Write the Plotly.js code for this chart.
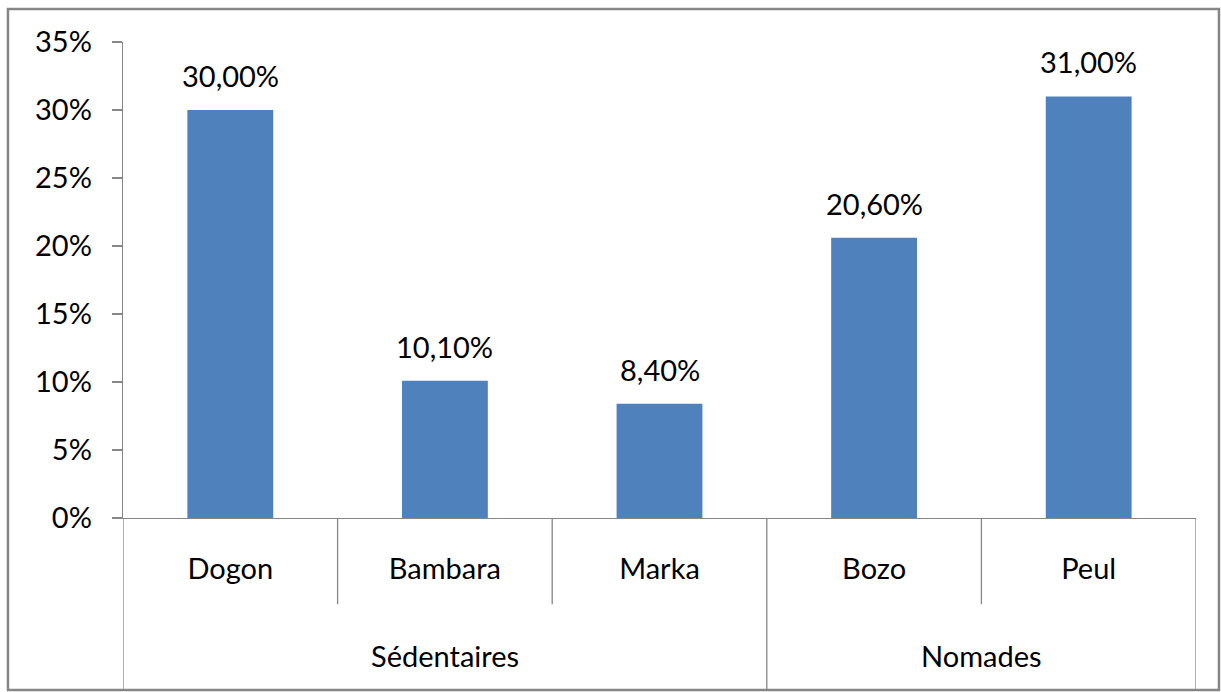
<!DOCTYPE html>
<html>
<head>
<meta charset="utf-8">
<script src="https://cdn.plot.ly/plotly-3.0.1.min.js"></script>
<style>html,body{margin:0;padding:0;background:#fff;}#chart{width:1221px;height:692px;}</style>
</head>
<body>
<div id="chart"></div>
<script>
// Data
var categories = ["Dogon", "Bambara", "Marka", "Bozo", "Peul"];
var groups = ["Sédentaires", "Sédentaires", "Sédentaires", "Nomades", "Nomades"];
var values = [0.30, 0.101, 0.084, 0.206, 0.31];
var yTicks = [0, 0.05, 0.10, 0.15, 0.20, 0.25, 0.30, 0.35];

var FONT = "Lato, 'Open Sans', sans-serif";
var FS = 29;
var AXIS = "#868686";
var idx = categories.map(function(_, i){ return i; });

function fmtPct(v){ return (v*100).toFixed(2).replace('.', ',') + '%'; }
var annotations = idx.map(function(i){
  return {x: i, y: values[i], xref: 'x', yref: 'y', text: fmtPct(values[i]),
    showarrow: false, yanchor: 'bottom', yshift: 15,
    font: {family: FONT, size: FS, color: '#000'}};
});

// group labels
var groupNames = [];
groups.forEach(function(g){ if (groupNames.indexOf(g) < 0) groupNames.push(g); });
var shapes = [];
groupNames.forEach(function(g){
  var members = idx.filter(function(i){ return groups[i] === g; });
  var first = members[0], last = members[members.length-1];
  annotations.push({x: (first+last)/2, y: -0.288, xref: 'x', yref: 'paper', text: g,
    showarrow: false, yanchor: 'middle', font: {family: FONT, size: FS, color: '#000'}});
});

// separators
idx.forEach(function(i){
  if (i === 0) {
    shapes.push({type: 'line', xref: 'x', yref: 'paper', x0: i-0.5, x1: i-0.5, y0: 0, y1: -0.3613, line: {color: AXIS, width: 1.3}});
  }
  var isGroupEnd = (i === categories.length-1) || groups[i] !== groups[i+1];
  shapes.push({type: 'line', xref: 'x', yref: 'paper', x0: i+0.5, x1: i+0.5, y0: 0,
    y1: isGroupEnd ? -0.3613 : -0.181, line: {color: AXIS, width: 1.3}});
});
// outer frame
shapes.push({type: 'rect', xref: 'paper', yref: 'paper', x0: -0.1072, x1: 1.0214, y0: -0.3613, y1: 1.0693,
  line: {color: AXIS, width: 2.5}, fillcolor: 'rgba(0,0,0,0)'});

var trace = {
  type: 'bar', x: idx, y: values,
  marker: {color: '#4F81BD', line: {width: 0}},
  hoverinfo: 'none'
};

var layout = {
  width: 1221, height: 692,
  margin: {l: 123, r: 25, t: 42, b: 174},
  paper_bgcolor: '#fff', plot_bgcolor: '#fff',
  bargap: 0.6,
  showlegend: false,
  separators: ', ',
  font: {family: FONT, size: FS, color: '#000'},
  xaxis: {
    type: 'linear', range: [-0.5, 4.5],
    tickmode: 'array', tickvals: idx, ticktext: categories,
    showgrid: false, zeroline: false,
    showline: true, linecolor: AXIS, linewidth: 1.3,
    ticks: '', ticklabelstandoff: 25,
    tickfont: {family: FONT, size: FS, color: '#000'}
  },
  yaxis: {
    range: [0, 0.35], tickmode: 'array', tickvals: yTicks, tickformat: '.0%',
    showgrid: false, zeroline: false,
    showline: true, linecolor: AXIS, linewidth: 1.3,
    ticks: 'outside', ticklen: 10, tickcolor: AXIS, tickwidth: 1.3,
    ticklabelstandoff: 14,
    tickfont: {family: FONT, size: FS, color: '#000'}
  },
  shapes: shapes,
  annotations: annotations
};

Plotly.newPlot('chart', [trace], layout, {staticPlot: true, displayModeBar: false});
</script>
</body>
</html>
